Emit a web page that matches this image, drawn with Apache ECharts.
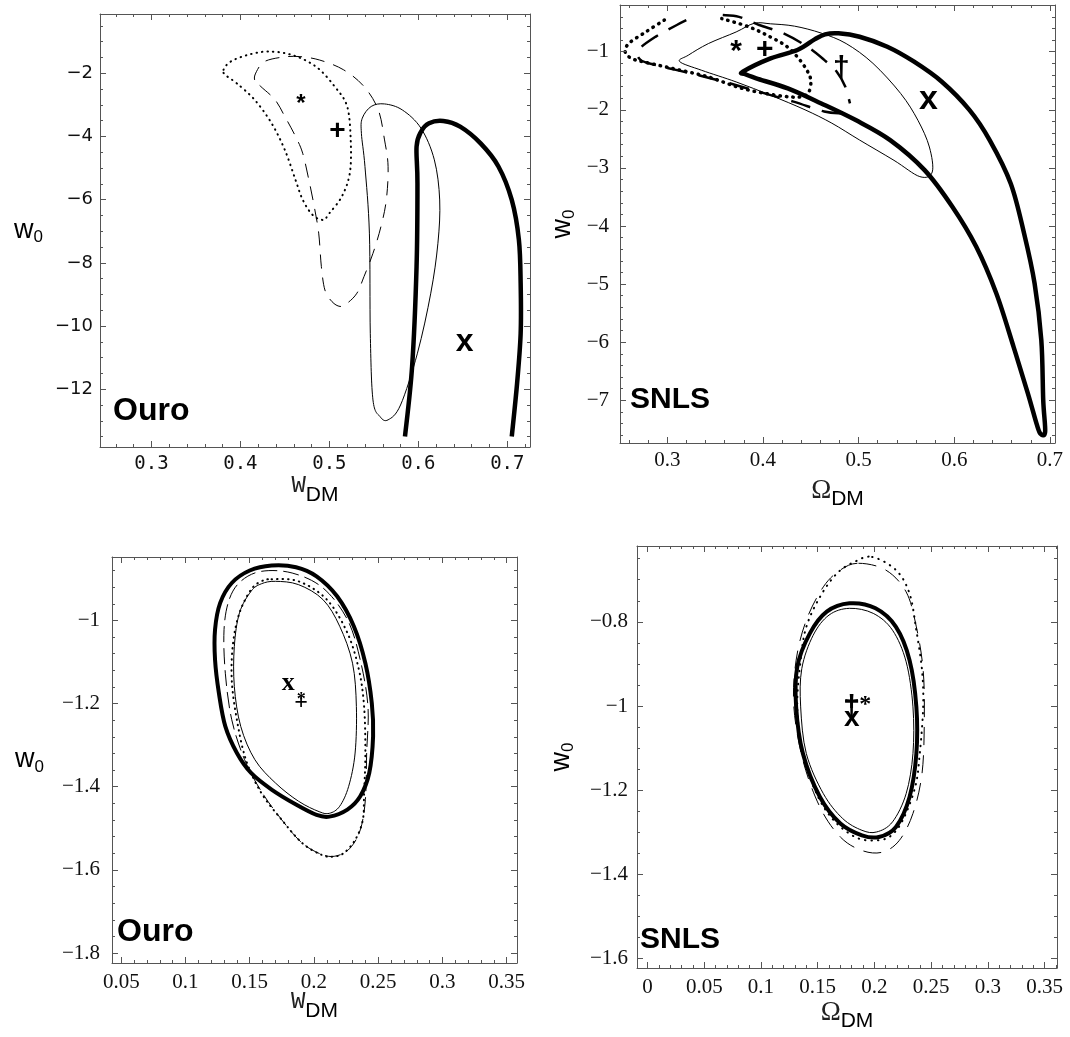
<!DOCTYPE html>
<html>
<head>
<meta charset="utf-8">
<script src="https://cdn.jsdelivr.net/npm/echarts@6/dist/echarts.min.js"></script>
<style>
  html, body { margin: 0; padding: 0; background: #fff; }
  #chart { width: 1070px; height: 1037px; }
</style>
</head>
<body>
<div id="chart"></div>
<script>
// ---- panel 1 (Ouro, W_DM vs w0, wide range) ----
const p1XTicks = [0.3, 0.4, 0.5, 0.6, 0.7];
const p1YTicks = [-12, -10, -8, -6, -4, -2];
const p1Thick = [[0.585,-13.50],[0.593,-11.28],[0.598,-8.12],[0.599,-5.48],[0.598,-4.32],[0.603,-3.85],[0.612,-3.58],[0.628,-3.51],[0.647,-3.69],[0.670,-4.22],[0.690,-4.95],[0.705,-6.01],[0.713,-7.27],[0.715,-8.65],[0.715,-10.23],[0.711,-11.81],[0.705,-13.50]];
const p1Thin = [[0.537,-3.42],[0.547,-3.05],[0.562,-2.97],[0.582,-3.16],[0.603,-3.74],[0.618,-4.74],[0.624,-6.01],[0.622,-7.38],[0.614,-8.96],[0.599,-10.86],[0.580,-12.50],[0.566,-12.97],[0.557,-12.87],[0.549,-12.34],[0.546,-10.23],[0.545,-7.06],[0.540,-4.95],[0.536,-3.90],[0.537,-3.42]];
const p1Dashed = [[0.416,-2.21],[0.418,-1.95],[0.427,-1.63],[0.447,-1.49],[0.466,-1.47],[0.489,-1.58],[0.516,-1.89],[0.539,-2.42],[0.555,-3.16],[0.562,-4.11],[0.566,-4.95],[0.564,-6.01],[0.558,-6.85],[0.549,-7.70],[0.539,-8.43],[0.531,-8.96],[0.520,-9.28],[0.512,-9.38],[0.503,-9.23],[0.495,-8.86],[0.491,-8.12],[0.488,-7.06],[0.483,-6.22],[0.477,-5.38],[0.470,-4.53],[0.462,-4.00],[0.450,-3.37],[0.439,-2.84],[0.423,-2.42],[0.416,-2.21]];
const p1Dotted = [[0.381,-1.89],[0.389,-1.63],[0.408,-1.42],[0.431,-1.31],[0.458,-1.42],[0.485,-1.79],[0.506,-2.42],[0.520,-3.05],[0.524,-4.11],[0.523,-5.16],[0.514,-5.90],[0.500,-6.43],[0.493,-6.64],[0.481,-6.48],[0.470,-6.00],[0.462,-5.38],[0.450,-4.43],[0.435,-3.58],[0.416,-2.84],[0.396,-2.32],[0.383,-2.05],[0.381,-1.89]];
const p1Star = [[0.468, -2.80]];
const p1Plus = [[0.509, -3.84]];
const p1Cross = [[0.652, -10.60]];

// ---- panel 2 (SNLS, Omega_DM vs w0, wide range) ----
const p2XTicks = [0.3, 0.4, 0.5, 0.6, 0.7];
const p2YTicks = [-7, -6, -5, -4, -3, -2, -1];
const p2Thick = [[0.379,-1.344],[0.408,-1.115],[0.436,-0.971],[0.454,-0.788],[0.465,-0.701],[0.479,-0.684],[0.501,-0.742],[0.530,-0.914],[0.558,-1.172],[0.587,-1.517],[0.616,-2.005],[0.637,-2.521],[0.659,-3.268],[0.673,-4.129],[0.684,-4.990],[0.691,-5.966],[0.693,-7.000],[0.695,-7.544],[0.690,-7.573],[0.686,-7.401],[0.677,-6.884],[0.662,-6.080],[0.644,-5.162],[0.623,-4.358],[0.598,-3.669],[0.569,-3.038],[0.533,-2.521],[0.497,-2.177],[0.461,-1.890],[0.426,-1.631],[0.393,-1.459],[0.381,-1.385],[0.379,-1.344]];
const p2Thin = [[0.313,-1.17],[0.322,-1.06],[0.343,-0.86],[0.372,-0.66],[0.391,-0.51],[0.408,-0.52],[0.433,-0.56],[0.461,-0.68],[0.487,-0.86],[0.515,-1.20],[0.544,-1.72],[0.562,-2.18],[0.574,-2.64],[0.577,-3.07],[0.564,-3.15],[0.537,-2.87],[0.501,-2.52],[0.472,-2.23],[0.444,-2.00],[0.408,-1.75],[0.372,-1.52],[0.336,-1.32],[0.313,-1.17]];
const p2DashedRight = [[0.358,-0.37],[0.375,-0.40],[0.396,-0.54],[0.421,-0.68],[0.446,-0.91],[0.464,-1.14],[0.477,-1.34],[0.486,-1.60],[0.491,-1.89]];
const p2DashedLeft = [[0.482,-2.06],[0.464,-2.03],[0.432,-1.86],[0.396,-1.69],[0.360,-1.52],[0.324,-1.37],[0.288,-1.23],[0.272,-1.14],[0.270,-0.97],[0.288,-0.74],[0.310,-0.54],[0.331,-0.37]];
const p2Dotted = [[0.297,-0.454],[0.278,-0.655],[0.260,-0.855],[0.256,-1.00],[0.262,-1.11],[0.274,-1.17],[0.306,-1.29],[0.342,-1.43],[0.378,-1.63],[0.414,-1.75],[0.439,-1.78],[0.448,-1.69],[0.450,-1.49],[0.446,-1.32],[0.437,-1.11],[0.425,-0.91],[0.407,-0.74],[0.385,-0.57],[0.357,-0.43]];
const p2Star = [[0.372, -0.885]];
const p2Plus = [[0.402, -0.96]];
const p2Dagger = [[0.482, -1.29]];
const p2Cross = [[0.573, -1.88]];

// ---- panel 3 (Ouro, zoomed) ----
const p3XTicks = [0.05, 0.1, 0.15, 0.2, 0.25, 0.3, 0.35];
const p3YTicks = [-1.8, -1.6, -1.4, -1.2, -1];
const p3Thick = [[0.167,-0.868],[0.186,-0.872],[0.202,-0.894],[0.218,-0.942],[0.231,-1.014],[0.240,-1.103],[0.245,-1.199],[0.246,-1.279],[0.243,-1.367],[0.236,-1.423],[0.226,-1.455],[0.212,-1.472],[0.202,-1.468],[0.186,-1.443],[0.167,-1.407],[0.151,-1.367],[0.140,-1.319],[0.131,-1.255],[0.126,-1.175],[0.123,-1.095],[0.123,-1.022],[0.127,-0.958],[0.136,-0.910],[0.150,-0.880],[0.167,-0.868]];
const p3Thin = [[0.170,-0.906],[0.188,-0.914],[0.207,-0.950],[0.220,-1.014],[0.230,-1.103],[0.233,-1.207],[0.232,-1.319],[0.227,-1.399],[0.220,-1.447],[0.212,-1.464],[0.204,-1.460],[0.188,-1.435],[0.170,-1.391],[0.154,-1.335],[0.143,-1.255],[0.138,-1.159],[0.138,-1.063],[0.142,-0.982],[0.151,-0.930],[0.159,-0.912],[0.170,-0.906]];
const p3Dashed = [[0.159,-0.882],[0.183,-0.886],[0.207,-0.922],[0.226,-0.998],[0.236,-1.095],[0.242,-1.207],[0.241,-1.319],[0.240,-1.431],[0.236,-1.504],[0.228,-1.548],[0.218,-1.566],[0.207,-1.564],[0.191,-1.536],[0.175,-1.480],[0.159,-1.411],[0.146,-1.335],[0.136,-1.239],[0.131,-1.127],[0.130,-1.022],[0.134,-0.950],[0.143,-0.906],[0.159,-0.882]];
const p3Dotted = [[0.167,-0.901],[0.188,-0.906],[0.210,-0.950],[0.226,-1.030],[0.235,-1.119],[0.239,-1.207],[0.240,-1.319],[0.239,-1.415],[0.238,-1.480],[0.232,-1.528],[0.223,-1.560],[0.215,-1.568],[0.206,-1.564],[0.191,-1.536],[0.175,-1.480],[0.159,-1.415],[0.147,-1.335],[0.140,-1.239],[0.136,-1.143],[0.137,-1.055],[0.142,-0.982],[0.151,-0.926],[0.159,-0.906],[0.167,-0.901]];
const p3Cross = [[0.180, -1.151]];
const p3Plus = [[0.190, -1.199]];
const p3Star = [[0.190, -1.183]];

// ---- panel 4 (SNLS, zoomed) ----
const p4XTicks = [0, 0.05, 0.1, 0.15, 0.2, 0.25, 0.3, 0.35];
const p4YTicks = [-1.6, -1.4, -1.2, -1, -0.8];
const p4Thick = [[0.178,-0.756],[0.201,-0.768],[0.219,-0.812],[0.231,-0.891],[0.237,-1.002],[0.237,-1.113],[0.231,-1.216],[0.219,-1.287],[0.204,-1.311],[0.189,-1.307],[0.170,-1.279],[0.152,-1.216],[0.137,-1.113],[0.131,-1.002],[0.132,-0.907],[0.143,-0.828],[0.158,-0.776],[0.178,-0.756]];
const p4Thin = [[0.178,-0.768],[0.199,-0.780],[0.216,-0.820],[0.228,-0.895],[0.234,-1.002],[0.234,-1.113],[0.228,-1.208],[0.216,-1.275],[0.202,-1.299],[0.189,-1.295],[0.172,-1.267],[0.155,-1.208],[0.140,-1.113],[0.135,-1.002],[0.136,-0.911],[0.146,-0.832],[0.160,-0.784],[0.178,-0.768]];
const p4Dashed = [[0.186,-0.661],[0.210,-0.677],[0.228,-0.729],[0.237,-0.812],[0.243,-0.915],[0.244,-1.034],[0.242,-1.160],[0.234,-1.255],[0.222,-1.319],[0.207,-1.347],[0.189,-1.343],[0.170,-1.311],[0.152,-1.240],[0.137,-1.129],[0.129,-1.002],[0.131,-0.891],[0.140,-0.796],[0.155,-0.717],[0.170,-0.677],[0.186,-0.661]];
const p4Dotted = [[0.198,-0.646],[0.219,-0.677],[0.231,-0.733],[0.237,-0.820],[0.242,-0.915],[0.243,-1.002],[0.240,-1.113],[0.236,-1.192],[0.225,-1.271],[0.213,-1.311],[0.198,-1.319],[0.183,-1.311],[0.164,-1.271],[0.149,-1.208],[0.137,-1.113],[0.132,-1.002],[0.135,-0.891],[0.140,-0.812],[0.152,-0.741],[0.167,-0.685],[0.183,-0.657],[0.198,-0.646]];
const p4Plus = [[0.180, -0.993]];
const p4Dagger = [[0.180, -1.005]];
const p4Cross = [[0.180, -1.029]];
const p4Star = [[0.192, -0.986]];

const chart = echarts.init(document.getElementById('chart'), null, { renderer: 'canvas' });

function fmt(v) {
  return String(+(+v).toFixed(4)).replace('-', '\u2212');
}
function steps(a, b, s) {
  const out = [];
  for (let v = a; v <= b + s / 1000; v += s) out.push(+v.toFixed(4));
  return out;
}

const LINE = '#555';
const xAxes = [], yAxes = [];

// 4 axes per direction per grid: main (labels + major ticks), minor, mirrored major, mirrored minor
function frame(list, g, sides, min, max, majors, minors, label, name) {
  sides.forEach((pos, si) => {
    [majors, minors].forEach((vals, mi) => {
      const main = si === 0 && mi === 0;
      const ax = {
        type: 'value', gridIndex: g, position: pos, min: min, max: max,
        axisLine: { show: mi === 0, onZero: false, lineStyle: { color: LINE, width: 1 } },
        axisTick: { show: true, inside: true, customValues: vals, length: mi === 0 ? 6 : 3,
                    lineStyle: { color: LINE, width: 1 } },
        axisLabel: main ? Object.assign({ show: true, customValues: majors, formatter: fmt, color: '#111' }, label)
                        : { show: false },
        splitLine: { show: false },
        z: 3
      };
      if (main) Object.assign(ax, name);
      list.push(ax);
    });
  });
}

const wName = (gap, rot) => ({
  name: '{a|w}{b|0}', nameLocation: 'middle', nameGap: gap, nameRotate: rot, nameMoveOverlap: false,
  nameTextStyle: { rich: {
    a: { fontFamily: 'Liberation Sans', fontSize: 27, lineHeight: 27, color: '#000' },
    b: { fontFamily: 'Liberation Sans', fontSize: 17, lineHeight: 17, padding: [14, 0, 0, 0], color: '#000' }
  } }
});
const dmName = (gap, sym, fam, size) => ({
  name: '{a|' + sym + '}{b|DM}', nameLocation: 'middle', nameGap: gap, nameMoveOverlap: false,
  nameTextStyle: { rich: {
    a: { fontFamily: fam, fontSize: size, lineHeight: size, color: '#222' },
    b: { fontFamily: 'Liberation Sans', fontSize: 21, lineHeight: 21, padding: [18, 0, 0, 0], color: '#000' }
  } }
});

const monoLbl = { fontFamily: 'DejaVu Sans Mono', fontSize: 19, margin: 8 };
const sansLbl = { fontFamily: 'DejaVu Sans', fontSize: 18, margin: 7 };
const serifLbl = (m) => ({ fontFamily: 'Liberation Serif', fontSize: 21, margin: m });

// panel 1
frame(xAxes, 0, ['bottom', 'top'], 0.2422, 0.7255, p1XTicks, steps(0.26, 0.72, 0.02), monoLbl,
      dmName(27, 'W', 'Liberation Mono', 24));
frame(yAxes, 0, ['left', 'right'], -13.83, -0.123, p1YTicks, steps(-13.5, -0.5, 0.5), sansLbl, wName(57, 0));
// panel 2
frame(xAxes, 1, ['bottom', 'top'], 0.2506, 0.7053, p2XTicks, steps(0.26, 0.70, 0.02), serifLbl(7),
      dmName(34, '\u03A9', 'Liberation Serif', 27));
frame(yAxes, 1, ['left', 'right'], -7.735, -0.196, p2YTicks, steps(-7.6, -0.2, 0.2), serifLbl(11), wName(44, 90));
// panel 3
frame(xAxes, 2, ['bottom', 'top'], 0.0428, 0.358, p3XTicks, steps(0.05, 0.35, 0.01), serifLbl(9),
      dmName(27, 'W', 'Liberation Mono', 24));
frame(yAxes, 2, ['left', 'right'], -1.824, -0.8475, p3YTicks, steps(-1.8, -0.88, 0.04), serifLbl(12), wName(68, 0));
// panel 4
frame(xAxes, 3, ['bottom', 'top'], -0.0093, 0.361, p4XTicks, steps(0, 0.36, 0.01), serifLbl(9),
      dmName(31, '\u03A9', 'Liberation Serif', 27));
frame(yAxes, 3, ['left', 'right'], -1.622, -0.620, p4YTicks, steps(-1.6, -0.65, 0.05), serifLbl(9), wName(62, 90));

// Catmull-Rom path through the projected points (closed when first point == last)
function splinePath(c) {
  const n = c.length;
  const closed = n > 2 && c[0][0] === c[n - 1][0] && c[0][1] === c[n - 1][1];
  const m = n - 1;
  const P = (i) => closed ? c[((i % m) + m) % m] : c[Math.max(0, Math.min(n - 1, i))];
  let d = 'M' + c[0][0] + ' ' + c[0][1];
  for (let i = 0; i < n - 1; i++) {
    const p0 = P(i - 1), p1 = P(i), p2 = P(i + 1), p3 = P(i + 2);
    d += ' C' + (p1[0] + (p2[0] - p0[0]) / 6) + ' ' + (p1[1] + (p2[1] - p0[1]) / 6) + ' ' +
         (p2[0] - (p3[0] - p1[0]) / 6) + ' ' + (p2[1] - (p3[1] - p1[1]) / 6) + ' ' + p2[0] + ' ' + p2[1];
  }
  if (closed) d += ' Z';
  return d;
}

function curve(g, data, width, dash, cap) {
  return {
    type: 'custom', xAxisIndex: 4 * g, yAxisIndex: 4 * g, data: data, silent: true, z: 2,
    renderItem: function (params, api) {
      if (params.dataIndex !== 0) return null;
      const cs = params.coordSys;
      const pts = data.map((p) => api.coord(p));
      return {
        type: 'path',
        shape: { pathData: splinePath(pts) },
        clipPath: { type: 'rect', shape: { x: cs.x, y: cs.y, width: cs.width, height: cs.height } },
        style: { fill: 'none', stroke: '#000', lineWidth: width, lineDash: dash || null,
                 lineCap: cap || 'butt', lineJoin: 'round' }
      };
    }
  };
}
function glyph(g, pts, text, size, family, offset) {
  return {
    type: 'scatter', xAxisIndex: 4 * g, yAxisIndex: 4 * g, data: pts, symbolSize: 1, silent: true, z: 5,
    itemStyle: { color: 'rgba(0,0,0,0)', opacity: 1 },
    label: { show: true, position: 'inside', formatter: text, fontSize: size, fontWeight: 'bold',
             fontFamily: family, color: '#000', opacity: 1, textBorderWidth: 0, offset: offset || [0, 0] }
  };
}

const SANS = 'Liberation Sans', SERIF = 'Liberation Serif';
const series = [
  curve(0, p1Dotted, 2, [0.5, 5], 'round'),
  curve(0, p1Dashed, 1, [14, 9]),
  curve(0, p1Thin, 1),
  curve(0, p1Thick, 4.5),
  glyph(0, p1Star, '*', 24, SANS, [0, 6]),
  glyph(0, p1Plus, '+', 28, SANS),
  glyph(0, p1Cross, 'x', 32, SANS, [0, -3]),

  curve(1, p2Dotted, 3.5, [0.5, 6], 'round'),
  curve(1, p2DashedRight, 2.5, [20, 12]),
  curve(1, p2DashedLeft, 2.5, [20, 12]),
  curve(1, p2Thin, 1),
  curve(1, p2Thick, 4.5),
  glyph(1, p2Star, '*', 30, SANS, [0, 7]),
  glyph(1, p2Plus, '+', 30, SANS),
  glyph(1, p2Dagger, '\u2020', 30, SANS),
  glyph(1, p2Cross, 'x', 34, SANS, [0, -3]),

  curve(2, p3Dotted, 2, [0.5, 5], 'round'),
  curve(2, p3Dashed, 1, [16, 6]),
  curve(2, p3Thin, 1),
  curve(2, p3Thick, 4),
  glyph(2, p3Cross, 'x', 26, SERIF),
  glyph(2, p3Star, '*', 18, SERIF, [0, 4]),
  glyph(2, p3Plus, '+', 24, SERIF),

  curve(3, p4Dotted, 2, [0.5, 6], 'round'),
  curve(3, p4Dashed, 1, [18, 10]),
  curve(3, p4Thin, 1),
  curve(3, p4Thick, 4),
  glyph(3, p4Dagger, '\u2020', 30, SANS),
  glyph(3, p4Plus, '+', 26, SANS),
  glyph(3, p4Cross, 'x', 28, SANS),
  glyph(3, p4Star, '*', 24, SERIF, [0, 5])
];

const tag = (x, y, text, size) => ({
  type: 'text', x: x, y: y, z: 10, silent: true,
  style: { text: text, font: 'bold ' + size + 'px "Liberation Sans"', fill: '#000', verticalAlign: 'middle' }
});

chart.setOption({
  animation: false,
  backgroundColor: '#fff',
  grid: [
    { left: 100, top: 14, width: 430, height: 433 },
    { left: 620, top: 5, width: 435, height: 438 },
    { left: 112, top: 557, width: 405, height: 406 },
    { left: 637, top: 546, width: 420, height: 422 }
  ],
  xAxis: xAxes,
  yAxis: yAxes,
  series: series,
  graphic: [
    tag(113, 411, 'Ouro', 32),
    tag(630, 400, 'SNLS', 30),
    tag(117, 932, 'Ouro', 32),
    tag(640, 940, 'SNLS', 30)
  ]
});

window.addEventListener('resize', chart.resize);
</script>
</body>
</html>
